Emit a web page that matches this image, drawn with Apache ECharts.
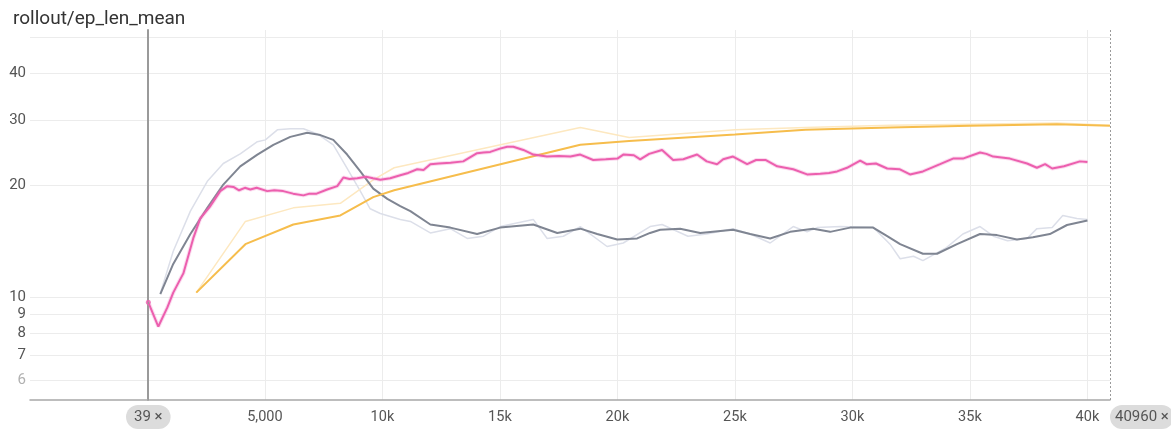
<!DOCTYPE html>
<html>
<head>
<meta charset="utf-8">
<script src="https://cdn.jsdelivr.net/npm/echarts@6/dist/echarts.min.js"></script>
<style>
  html, body { margin: 0; padding: 0; background: #fff; }
  #chart { width: 1171px; height: 432px; }
</style>
</head>
<body>
<div id="chart"></div>
<script>
// ---- data: steps and values of rollout/ep_len_mean for three runs ----
const pinkSteps = [39, 465, 850, 1100, 1530, 1950, 2250, 2680, 3100, 3400, 3660, 3900, 4150, 4380, 4650, 5100, 5400, 5780, 6200, 6640, 6900, 7200, 7650, 8080, 8340, 8600, 8930, 9300, 9600, 9910, 10330, 10760, 11100, 11480, 11750, 12040, 12400, 12900, 13440, 14030, 14300, 14590, 15000, 15310, 15570, 16000, 16420, 17000, 17500, 18000, 18420, 18970, 19500, 20000, 20250, 20700, 20970, 21350, 21900, 22370, 22800, 23390, 23800, 24240, 24500, 24920, 25520, 25900, 26300, 26800, 27480, 28070, 28630, 29000, 29350, 29770, 30330, 30600, 31000, 31480, 32000, 32450, 33000, 33730, 34280, 34700, 35430, 35700, 35990, 36700, 37430, 37850, 38200, 38500, 39000, 39680, 40000];
const pinkValues = [9.7, 8.35, 9.4, 10.3, 11.6, 14.4, 16.3, 17.6, 19.3, 19.9, 19.8, 19.4, 19.7, 19.5, 19.7, 19.3, 19.4, 19.3, 19.0, 18.8, 19.0, 19.0, 19.5, 19.9, 21.0, 20.8, 20.9, 21.1, 20.9, 20.7, 20.9, 21.3, 21.6, 22.1, 22.0, 22.8, 22.9, 23.0, 23.2, 24.4, 24.5, 24.6, 25.1, 25.4, 25.4, 24.9, 24.2, 23.9, 24.0, 23.9, 24.2, 23.4, 23.5, 23.6, 24.2, 24.1, 23.5, 24.3, 24.9, 23.4, 23.5, 24.2, 23.2, 22.8, 23.5, 23.9, 22.8, 23.4, 23.4, 22.5, 22.1, 21.4, 21.5, 21.6, 21.8, 22.3, 23.3, 22.8, 22.9, 22.2, 22.1, 21.4, 21.8, 22.8, 23.6, 23.6, 24.5, 24.3, 23.9, 23.6, 22.9, 22.3, 22.8, 22.2, 22.5, 23.2, 23.1];

const greySteps = [550, 1100, 1830, 2550, 3230, 3950, 4680, 5360, 6080, 6800, 7360, 7910, 8500, 9060, 9610, 10210, 10760, 11190, 12040, 12890, 14030, 15010, 16420, 17440, 18420, 19140, 19990, 20840, 21390, 21820, 22670, 23520, 24920, 25650, 26500, 27350, 28330, 29050, 29900, 30880, 31480, 32030, 33000, 33600, 34450, 35430, 36150, 37000, 37680, 38400, 39130, 40000];
const greySmoothed = [10.2, 12.3, 14.8, 17.4, 20.1, 22.5, 24.2, 25.7, 27.0, 27.7, 27.3, 26.5, 24.2, 21.8, 19.6, 18.4, 17.6, 17.05, 15.7, 15.4, 14.8, 15.4, 15.7, 14.9, 15.3, 14.8, 14.3, 14.4, 14.9, 15.2, 15.3, 14.9, 15.2, 14.8, 14.4, 15.0, 15.3, 15.0, 15.4, 15.4, 14.6, 13.9, 13.1, 13.1, 13.9, 14.8, 14.7, 14.3, 14.5, 14.8, 15.65, 16.1];

const greyRawSteps = [550, 1100, 1830, 2550, 3230, 3950, 4680, 5020, 5530, 6080, 6640, 7230, 7910, 8500, 9060, 9480, 9910, 10760, 11190, 12040, 12890, 13610, 14300, 15010, 16420, 17010, 17700, 18420, 19560, 20250, 21390, 21900, 23000, 23800, 24920, 25650, 26500, 27480, 28070, 28500, 29500, 30900, 31600, 32030, 32600, 33000, 34000, 34700, 35430, 36000, 36600, 37430, 37850, 38500, 38950, 39550, 40000];
const greyRaw = [10.25, 13.3, 17.05, 20.5, 22.9, 24.3, 26.2, 26.5, 28.2, 28.4, 28.4, 27.5, 25.7, 22.2, 19.3, 17.3, 16.8, 16.2, 16.0, 14.9, 15.3, 14.4, 14.6, 15.5, 16.2, 14.4, 14.6, 15.5, 13.7, 14.0, 15.5, 15.7, 14.6, 14.8, 15.3, 14.8, 14.0, 15.5, 15.0, 15.4, 15.5, 15.4, 13.9, 12.7, 12.9, 12.55, 13.6, 14.8, 15.5, 14.6, 14.2, 14.4, 15.3, 15.4, 16.6, 16.3, 16.2];

const orangeSteps = [2080, 4170, 6210, 8210, 9610, 10500, 18420, 20500, 25000, 28000, 31600, 35000, 38700, 40960];
const orangeRaw = [10.3, 16.0, 17.4, 17.9, 20.7, 22.3, 28.6, 26.9, 28.2, 28.6, 29.0, 29.2, 29.4, 29.0];
const orangeSmoothed = [10.3, 13.9, 15.7, 16.6, 18.6, 19.4, 25.7, 26.3, 27.4, 28.2, 28.6, 28.9, 29.2, 28.9];

// ---- axis ticks ----
const stepRange = [39, 40960];
const xTickSteps = [5000, 10000, 15000, 20000, 25000, 30000, 35000, 40000];
const yGridValues = [6, 7, 8, 9, 10, 20, 30, 40, 50];
const yLabelValues = [6, 7, 8, 9, 10, 20, 30, 40];

const zip = (xs, ys) => xs.map((x, i) => [x, ys[i]]);
const fontFamily = 'Roboto, "Noto Sans", sans-serif';

function stepLabel(v) {
  if (v === stepRange[0]) return '{selL|' + v + ' ×}';
  if (v === stepRange[1]) return '{selR|' + v + ' ×}';
  if (v < 10000) return '{plain|' + v.toLocaleString('en-US') + '}';
  return '{plain|' + (v / 1000) + 'k}';
}

const richLabels = {
  selL: { backgroundColor: '#dcdcdc', borderRadius: 12, padding: [5, 8, 4, 8], color: '#555', fontSize: 15, fontFamily },
  selR: { backgroundColor: '#dcdcdc', borderRadius: 12, padding: [5, 5, 4, 5], color: '#555', fontSize: 15, fontFamily },
  plain: { padding: [5, 0, 4, 0], color: '#555', fontSize: 14.5, fontFamily }
};

const chart = echarts.init(document.getElementById('chart'), null, { renderer: 'canvas' });

chart.setOption({
  animation: false,
  backgroundColor: '#ffffff',
  title: {
    text: 'rollout/ep_len_mean',
    left: 8, top: 5,
    textStyle: { fontSize: 19, fontWeight: 'normal', color: '#333', fontFamily }
  },
  grid: { left: 30, right: 61, top: 30, bottom: 32, containLabel: false, outerBoundsMode: 'none' },
  xAxis: [
    {
      type: 'value', min: -4995, max: 40960,
      axisLine: { show: true, lineStyle: { color: '#a8a8a8', width: 1.5 } },
      axisTick: { show: false, customValues: xTickSteps },
      splitLine: { show: true, lineStyle: { color: '#ececec', width: 1 } },
      axisLabel: {
        customValues: [stepRange[0]].concat(xTickSteps),
        margin: 5, formatter: stepLabel, rich: richLabels
      }
    },
    {
      type: 'value', min: -4995, max: 40960, position: 'bottom',
      axisLine: { show: false }, axisTick: { show: false }, splitLine: { show: false },
      axisLabel: {
        customValues: [stepRange[1]], align: 'left',
        margin: 5, formatter: stepLabel, rich: richLabels
      }
    }
  ],
  yAxis: {
    type: 'log', logBase: 10, min: 5.3, max: 52.3,
    axisLine: { show: true, lineStyle: { color: '#9a9a9a', width: 2 } },
    axisTick: { show: false, customValues: yGridValues },
    splitLine: { show: true, lineStyle: { color: '#ececec', width: 1 } },
    axisLabel: {
      customValues: yLabelValues, margin: 4,
      fontSize: 15, fontFamily,
      color: (v) => (Number(v) === 6 ? '#b0b0b0' : '#555')
    }
  },
  series: [
    {
      name: 'grey raw', type: 'line', showSymbol: false, silent: true,
      data: zip(greyRawSteps, greyRaw),
      lineStyle: { color: '#dcdfe9', width: 1.5 }
    },
    {
      name: 'orange raw', type: 'line', showSymbol: false, silent: true,
      data: zip(orangeSteps, orangeRaw),
      lineStyle: { color: '#fde8c0', width: 1.5 }
    },
    {
      name: 'grey', type: 'line', showSymbol: false, silent: true,
      data: zip(greySteps, greySmoothed),
      lineStyle: { color: '#7f8592', width: 2 },
      markLine: {
        silent: true, symbol: 'none', label: { show: false },
        lineStyle: { type: [2, 2], color: '#9a9a9a', width: 1 },
        data: [{ xAxis: stepRange[0] }, { xAxis: stepRange[1] }]
      }
    },
    {
      name: 'orange', type: 'line', showSymbol: false, silent: true,
      data: zip(orangeSteps, orangeSmoothed),
      lineStyle: { color: '#f6bd4c', width: 2 }
    },
    {
      name: 'pink halo', type: 'line', showSymbol: false, silent: true,
      data: zip(pinkSteps, pinkValues),
      lineStyle: { color: 'rgba(240,110,190,0.25)', width: 4 }
    },
    {
      name: 'pink', type: 'line', showSymbol: false, silent: true,
      data: zip(pinkSteps, pinkValues),
      lineStyle: { color: '#ec5fae', width: 2 }
    },
    {
      name: 'pink start', type: 'scatter', silent: true,
      data: [[pinkSteps[0], pinkValues[0]]],
      symbolSize: 5, itemStyle: { color: '#ec5fae' }
    }
  ]
});
</script>
</body>
</html>
